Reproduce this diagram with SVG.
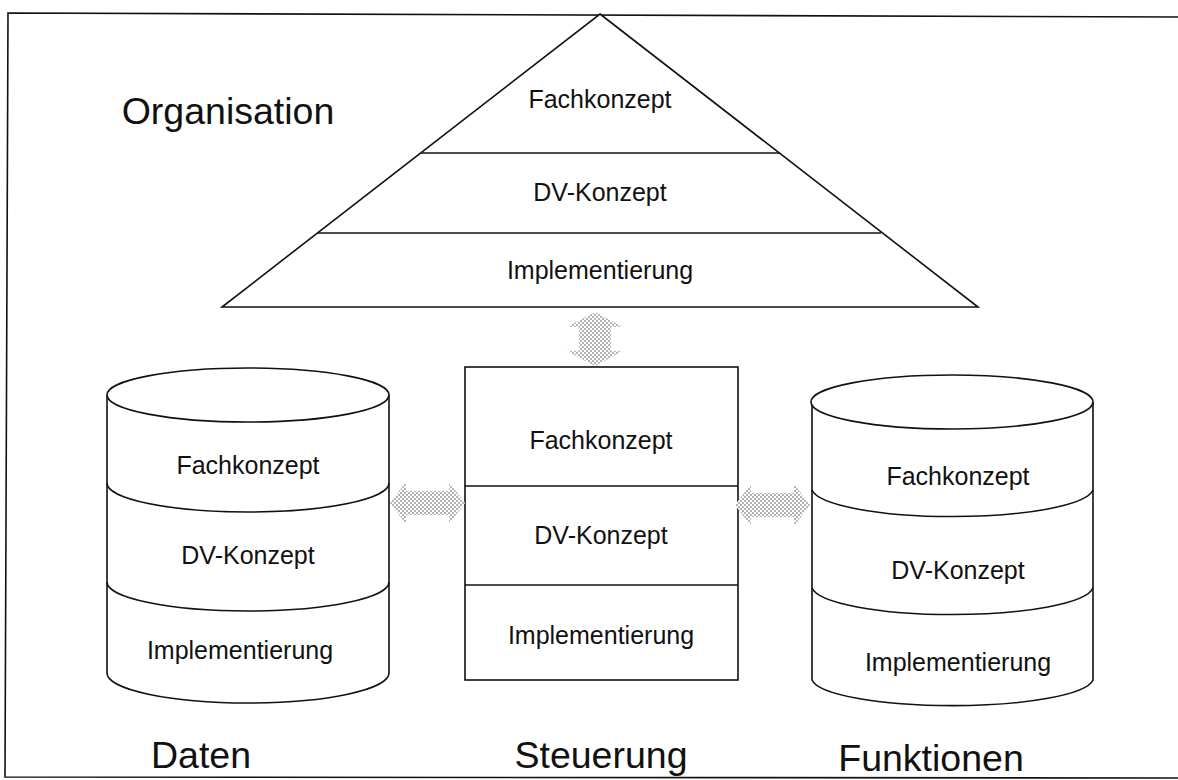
<svg xmlns="http://www.w3.org/2000/svg" width="1178" height="780" viewBox="0 0 1178 780">
<defs>
<pattern id="dots" width="4" height="4" patternUnits="userSpaceOnUse">
<rect width="4" height="4" fill="#fff"/>
<circle cx="1" cy="1" r="0.75" fill="#444"/>
<circle cx="3" cy="3" r="0.75" fill="#444"/>
</pattern>
</defs>
<style>
.ln{fill:none;stroke:#111;stroke-width:1.6}
.sh{fill:#fff;stroke:#111;stroke-width:1.6}
.t{font-family:"Liberation Sans",Arial,sans-serif;font-size:25px;fill:#111;text-anchor:middle}
.big{font-family:"Liberation Sans",Arial,sans-serif;font-size:37.5px;fill:#111;text-anchor:middle}
.arr{fill:url(#dots);stroke:none}
</style>
<rect width="1178" height="780" fill="#fff"/>
<g id="frame">
<path class="ln" d="M1178,17 L8,13 L5,777 L1178,778"/>
</g>
<g id="organisation">
<path class="sh" d="M600,14 L978,307 L222,307 Z"/>
<line class="ln" x1="421" y1="153" x2="780" y2="153"/>
<line class="ln" x1="318" y1="233" x2="881" y2="233"/>
<text class="big" x="228" y="124">Organisation</text>
<text class="t" x="600" y="108">Fachkonzept</text>
<text class="t" x="600" y="201">DV-Konzept</text>
<text class="t" x="600" y="279">Implementierung</text>
</g>
<g id="steuerung">
<rect class="sh" x="465" y="367" width="273" height="313"/>
<line class="ln" x1="465" y1="486" x2="738" y2="486"/>
<line class="ln" x1="465" y1="585" x2="738" y2="585"/>
<text class="t" x="601" y="449">Fachkonzept</text>
<text class="t" x="601" y="544">DV-Konzept</text>
<text class="t" x="601" y="644">Implementierung</text>
<text class="big" x="601" y="768">Steuerung</text>
</g>
<g id="daten">
<path class="sh" d="M107,395 L107,673 A141,30 0 0 0 389,673 L389,395"/>
<ellipse class="sh" cx="248" cy="395" rx="141" ry="27"/>
<path class="ln" d="M107,483 A141,29 0 0 0 389,483"/>
<path class="ln" d="M107,582 A141,29 0 0 0 389,582"/>
<text class="t" x="248" y="474">Fachkonzept</text>
<text class="t" x="248" y="564">DV-Konzept</text>
<text class="t" x="240" y="659">Implementierung</text>
<text class="big" x="201" y="768">Daten</text>
</g>
<g id="funktionen">
<path class="sh" d="M812,402 L812,680 A141,28 0 0 0 1093,680 L1093,402"/>
<ellipse class="sh" cx="952" cy="402" rx="141" ry="27"/>
<path class="ln" d="M812,490 A141,29 0 0 0 1093,490"/>
<path class="ln" d="M812,588 A141,29 0 0 0 1093,588"/>
<text class="t" x="958" y="485">Fachkonzept</text>
<text class="t" x="958" y="579">DV-Konzept</text>
<text class="t" x="958" y="671">Implementierung</text>
<text class="big" x="931" y="771">Funktionen</text>
</g>
<g id="connectors">
<path class="arr" d="M595,312 L623,327 L611,327 L611,351 L623,351 L595,366 L567,351 L579,351 L579,327 L567,327 Z"/>
<path class="arr" d="M390,503 L406,482 L406,491 L449,491 L449,482 L465,503 L449,524 L449,515 L406,515 L406,524 Z"/>
<path class="arr" d="M735,505 L751,484 L751,493 L794,493 L794,484 L810,505 L794,526 L794,517 L751,517 L751,526 Z"/>
</g>
</svg>
